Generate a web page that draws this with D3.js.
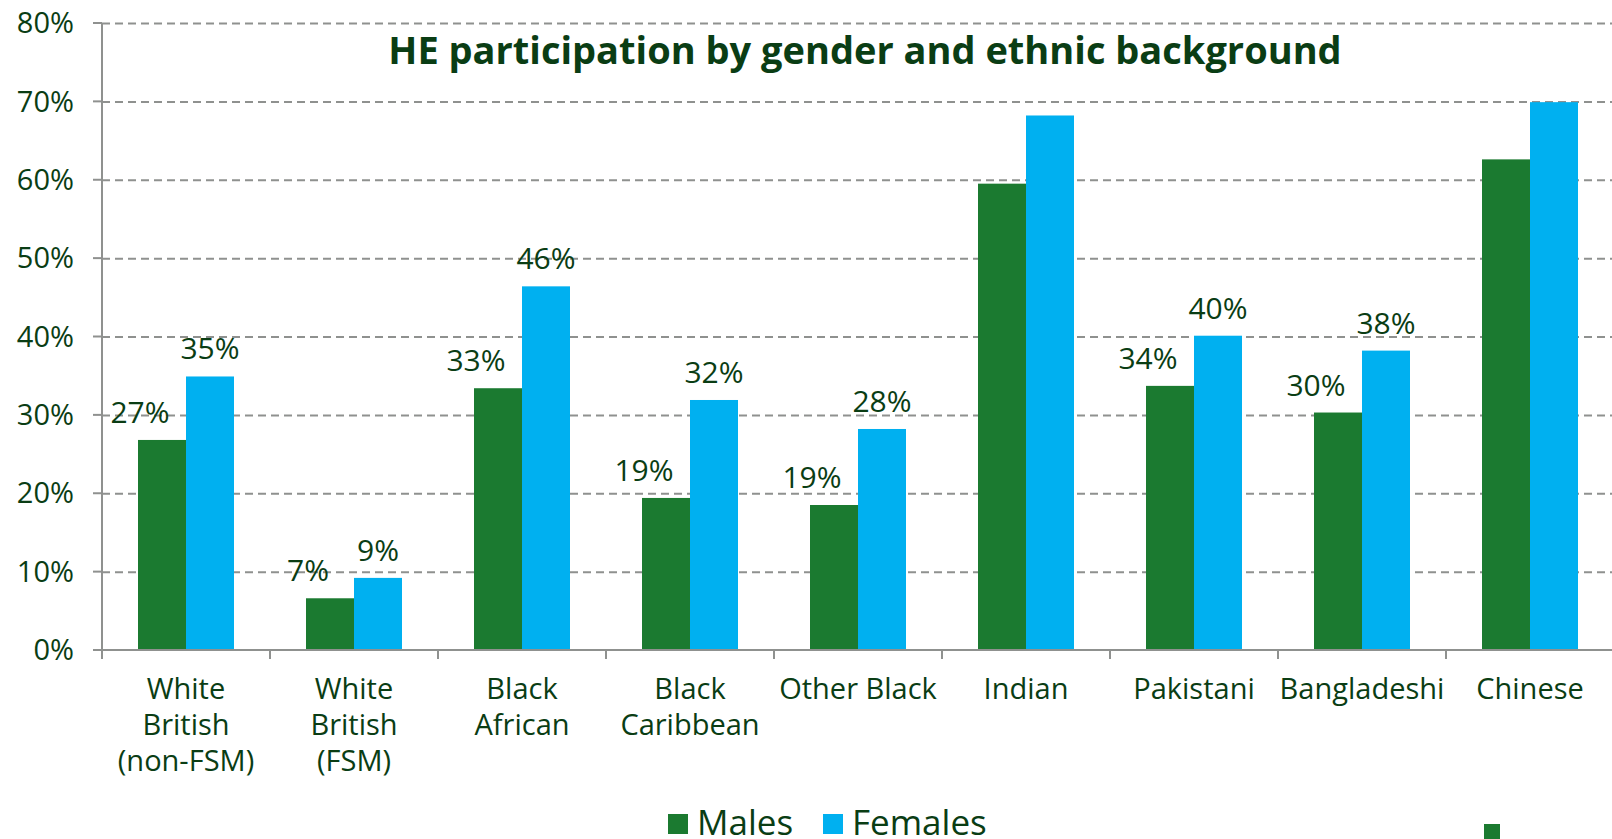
<html>
<head>
    <script src="https://d3js.org/d3.v7.min.js"></script>
    <style>
        body { margin: 0; background: #fff; }
        text { font-family: "Open Sans", "Noto Sans", sans-serif; fill: #0a3d14; }
        .grid line { stroke: #8f918f; stroke-width: 2; stroke-dasharray: 8, 5; }
        .grid .domain { display: none; }
        .tick-label { font-size: 29px; }
        .chart-title { font-size: 38px; font-weight: bold; text-anchor: middle; }
        .value-label { font-size: 30px; text-anchor: middle; }
        .legend text { font-size: 35px; }
    </style>
</head>
<body>
    <svg id="chart"></svg>
    <script>
        const categories = ["White British (non-FSM)", "White British (FSM)", "Black African", "Black Caribbean",
            "Other Black", "Indian", "Pakistani", "Bangladeshi", "Chinese"];
        const categoryLines = [["White", "British", "(non-FSM)"], ["White", "British", "(FSM)"], ["Black", "African"],
            ["Black", "Caribbean"], ["Other Black"], ["Indian"], ["Pakistani"], ["Bangladeshi"], ["Chinese"]];
        const males = [26.8, 6.6, 33.4, 19.4, 18.5, 59.5, 33.7, 30.3, 62.6];
        const females = [34.9, 9.2, 46.4, 31.9, 28.2, 68.2, 40.1, 38.2, 69.9];
        const maleLabels = ["27%", "7%", "33%", "19%", "19%", "", "34%", "30%", ""];
        const femaleLabels = ["35%", "9%", "46%", "32%", "28%", "", "40%", "38%", ""];
        const yTicks = [0, 10, 20, 30, 40, 50, 60, 70, 80];
        const series = ["Males", "Females"];
        const colors = { Males: "#1b7a30", Females: "#00b0f0" };

        const W = 1612, H = 839;
        const svg = d3.select("#chart").attr("width", W).attr("height", H);

        const x0 = d3.scaleBand().domain(categories).range([102, 1614]);
        const x1 = d3.scaleBand().domain(series).range([0, x0.bandwidth()]).paddingOuter(0.75);
        const y = d3.scaleLinear().domain([0, 80]).range([650, 23]);

        // grid
        svg.append("g")
            .attr("class", "grid")
            .attr("transform", "translate(102,0)")
            .call(d3.axisLeft(y).tickValues(yTicks.slice(1)).tickSize(-1520).tickFormat(""));

        // bars
        const rows = categories.map((c, i) => ({
            cat: c,
            vals: [
                { s: "Males", v: males[i], label: maleLabels[i] },
                { s: "Females", v: females[i], label: femaleLabels[i] }
            ]
        }));

        const groups = svg.selectAll(".group")
            .data(rows)
            .enter()
            .append("g")
            .attr("transform", d => `translate(${x0(d.cat)},0)`);

        groups.selectAll("rect")
            .data(d => d.vals)
            .enter()
            .append("rect")
            .attr("x", d => x1(d.s))
            .attr("y", d => y(d.v))
            .attr("width", x1.bandwidth())
            .attr("height", d => y(0) - y(d.v))
            .attr("fill", d => colors[d.s]);

        groups.selectAll(".value-label")
            .data(d => d.vals.filter(v => v.label))
            .enter()
            .append("text")
            .attr("class", "value-label")
            .attr("x", d => x1(d.s) + x1.bandwidth() / 2 + (d.s === "Males" ? -22 : 0))
            .attr("y", d => y(d.v) - 17)
            .text(d => d.label);

        // axes
        svg.append("line")
            .attr("x1", 102).attr("x2", 102).attr("y1", 23).attr("y2", 650)
            .attr("stroke", "#8f918f").attr("stroke-width", 2);
        svg.append("line")
            .attr("x1", 93).attr("x2", 1612).attr("y1", 650).attr("y2", 650)
            .attr("stroke", "#8f918f").attr("stroke-width", 2);

        svg.selectAll(".ytick")
            .data(yTicks)
            .enter()
            .append("line")
            .attr("x1", 93).attr("x2", 102)
            .attr("y1", d => y(d)).attr("y2", d => y(d))
            .attr("stroke", "#8f918f").attr("stroke-width", 2);

        svg.selectAll(".tick-label")
            .data(yTicks)
            .enter()
            .append("text")
            .attr("class", "tick-label")
            .attr("x", 74)
            .attr("y", d => y(d))
            .attr("dy", "0.35em")
            .attr("text-anchor", "end")
            .text(d => d + "%");

        svg.selectAll(".xtick")
            .data(categories)
            .enter()
            .append("line")
            .attr("x1", d => x0(d)).attr("x2", d => x0(d))
            .attr("y1", 650).attr("y2", 659)
            .attr("stroke", "#8f918f").attr("stroke-width", 2);

        categories.forEach((c, i) => {
            const t = svg.append("text")
                .attr("class", "tick-label")
                .attr("text-anchor", "middle")
                .attr("x", x0(c) + x0.bandwidth() / 2)
                .attr("y", 699);
            categoryLines[i].forEach((line, j) => {
                t.append("tspan")
                    .attr("x", x0(c) + x0.bandwidth() / 2)
                    .attr("dy", j === 0 ? 0 : 36)
                    .text(line);
            });
        });

        // title
        svg.append("text")
            .attr("class", "chart-title")
            .attr("x", 865)
            .attr("y", 64)
            .text("HE participation by gender and ethnic background");

        // legend
        const legend = svg.append("g").attr("class", "legend");
        const legendX = [668, 823];
        series.forEach((s, i) => {
            legend.append("rect")
                .attr("x", legendX[i]).attr("y", 814)
                .attr("width", 20).attr("height", 20)
                .attr("fill", colors[s]);
            legend.append("text")
                .attr("x", legendX[i] + 29)
                .attr("y", 835)
                .text(s);
        });

        svg.append("rect")
            .attr("x", 1484).attr("y", 824)
            .attr("width", 16).attr("height", 16)
            .attr("fill", colors.Males);
    </script>
</body>
</html>
